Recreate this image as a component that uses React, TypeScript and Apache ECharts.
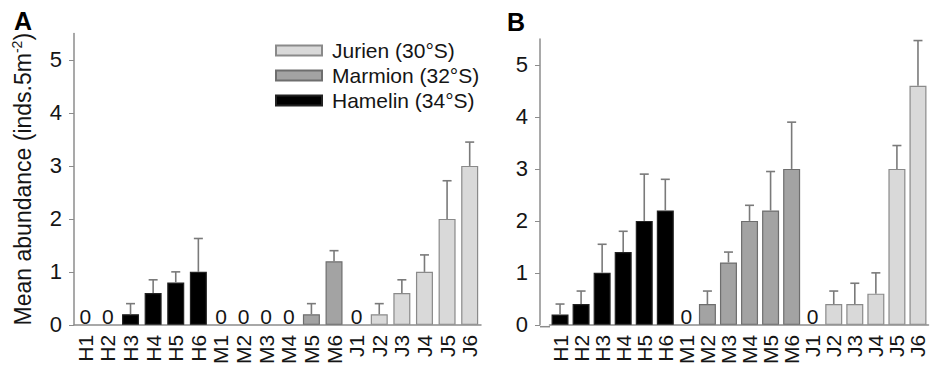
import React, { useEffect, useRef } from 'react';
import * as echarts from 'echarts';

const categories = ['H1', 'H2', 'H3', 'H4', 'H5', 'H6', 'M1', 'M2', 'M3', 'M4', 'M5', 'M6', 'J1', 'J2', 'J3', 'J4', 'J5', 'J6'];
const meanA = [0, 0, 0.2, 0.6, 0.8, 1.0, 0, 0, 0, 0, 0.2, 1.2, 0, 0.2, 0.6, 1.0, 2.0, 3.0];
const seA = [0, 0, 0.2, 0.25, 0.2, 0.63, 0, 0, 0, 0, 0.2, 0.2, 0, 0.2, 0.25, 0.32, 0.72, 0.45];
const meanB = [0.2, 0.4, 1.0, 1.4, 2.0, 2.2, 0, 0.4, 1.2, 2.0, 2.2, 3.0, 0, 0.4, 0.4, 0.6, 3.0, 4.6];
const seB = [0.2, 0.25, 0.55, 0.4, 0.9, 0.6, 0, 0.25, 0.2, 0.3, 0.75, 0.9, 0, 0.25, 0.4, 0.4, 0.45, 0.87];
const yTicks = [0, 1, 2, 3, 4, 5];
const yMax = 5.5;
const sites = [
  { key: 'J', name: 'Jurien (30°S)', color: '#d9d9d9', border: '#8a8a8a' },
  { key: 'M', name: 'Marmion (32°S)', color: '#a3a3a3', border: '#6e6e6e' },
  { key: 'H', name: 'Hamelin (34°S)', color: '#000000', border: '#222222' },
];

const FONT = '"Liberation Sans", Arial, sans-serif';
const TXT = '#151515';
const AXC = '#8c8c8c';

export default function App() {
  const ref = useRef<HTMLDivElement>(null);
  useEffect(() => {
    if (!ref.current) return;
    const chart = echarts.init(ref.current, null, { renderer: 'svg' });
    const panels = [
      { mean: meanA, se: seA },
      { mean: meanB, se: seB },
    ];
    const series: any[] = [];
    panels.forEach((p, pi) => {
      sites.forEach((s) => {
        series.push({
          type: 'bar',
          name: s.name,
          xAxisIndex: pi,
          yAxisIndex: pi,
          stack: 'panel' + pi,
          barWidth: 17,
          itemStyle: { color: s.color, borderColor: s.border, borderWidth: 1.2 },
          label: {
            show: true,
            position: 'top',
            distance: -2,
            fontSize: 21,
            fontFamily: FONT,
            color: TXT,
            formatter: (q: any) => (q.value === 0 ? '0' : ''),
          },
          data: categories.map((c, i) =>
            c[0] === s.key
              ? { value: p.mean[i], itemStyle: p.mean[i] === 0 ? { borderWidth: 0 } : undefined }
              : '-'
          ),
        });
      });
      series.push({
        type: 'custom',
        xAxisIndex: pi,
        yAxisIndex: pi,
        z: 5,
        encode: { x: 0, y: 1 },
        data: categories.map((c, i) => [i, p.mean[i], p.se[i]]),
        renderItem: (params: any, api: any) => {
          const x = api.value(0);
          const m = api.value(1);
          const e = api.value(2);
          if (!e) return null;
          const p0 = api.coord([x, m]);
          const p1 = api.coord([x, m + e]);
          const st = { stroke: '#7a7a7a', lineWidth: 1.6 };
          return {
            type: 'group',
            children: [
              { type: 'line', shape: { x1: p0[0], y1: p0[1], x2: p1[0], y2: p1[1] }, style: st },
              { type: 'line', shape: { x1: p1[0] - 4.5, y1: p1[1], x2: p1[0] + 4.5, y2: p1[1] }, style: st },
            ],
          };
        },
      });
    });

    const xAxisBase = (gi: number) => ({
      gridIndex: gi,
      type: 'category',
      data: categories,
      axisLine: { lineStyle: { color: AXC, width: 1.5 } },
      axisTick: { alignWithLabel: true, length: 4, lineStyle: { color: AXC } },
      axisLabel: { rotate: 90, fontSize: 21, fontFamily: FONT, color: TXT, margin: 10, interval: 0 },
    });
    const yAxisBase = (gi: number) => ({
      gridIndex: gi,
      type: 'value',
      min: 0,
      max: yMax,
      splitLine: { show: false },
      axisLine: { show: true, lineStyle: { color: AXC, width: 1.5 } },
      axisTick: { show: true, length: 5, lineStyle: { color: AXC }, customValues: yTicks },
      axisLabel: { fontSize: 22, fontFamily: FONT, color: TXT, margin: 12, customValues: yTicks },
    });

    chart.setOption({
      animation: false,
      grid: [
        { left: 74, top: 33.5, width: 407, bottom: 40.3 },
        { left: 549.5, top: 39, width: 379, bottom: 40.3 },
      ],
      legend: {
        orient: 'vertical',
        left: 270,
        top: 35,
        itemWidth: 46,
        itemHeight: 10,
        itemGap: 4,
        icon: 'rect',
        data: sites.map((s) => s.name),
        textStyle: { fontSize: 21, fontFamily: FONT, color: TXT, lineHeight: 20, padding: [0, 0, 0, 5] },
      },
      xAxis: [xAxisBase(0), xAxisBase(1)],
      yAxis: [
        {
          ...yAxisBase(0),
          name: '{a|Mean abundance (inds.5m}{s|-2}{a|)}',
          nameLocation: 'middle',
          nameGap: 38,
          nameTextStyle: {
            rich: {
              a: { fontSize: 23, fontFamily: FONT, color: TXT, lineHeight: 26 },
              s: { fontSize: 14, fontFamily: FONT, color: TXT, lineHeight: 26, verticalAlign: 'top' },
            },
          },
        },
        { ...yAxisBase(1), offset: 9.5 },
      ],
      graphic: [
        { type: 'text', left: 14, top: 8, style: { text: 'A', font: 'bold 25px ' + FONT, fill: '#000' } },
        { type: 'text', left: 507, top: 9, style: { text: 'B', font: 'bold 25px ' + FONT, fill: '#000' } },
        { type: 'line', shape: { x1: 540, y1: 326.7, x2: 550, y2: 326.7 }, style: { stroke: AXC, lineWidth: 1.5 } },
      ],
      series,
    });
    return () => chart.dispose();
  }, []);
  return <div ref={ref} style={{ position: 'absolute', left: 0, top: 0, width: 930, height: 367 }} />;
}
